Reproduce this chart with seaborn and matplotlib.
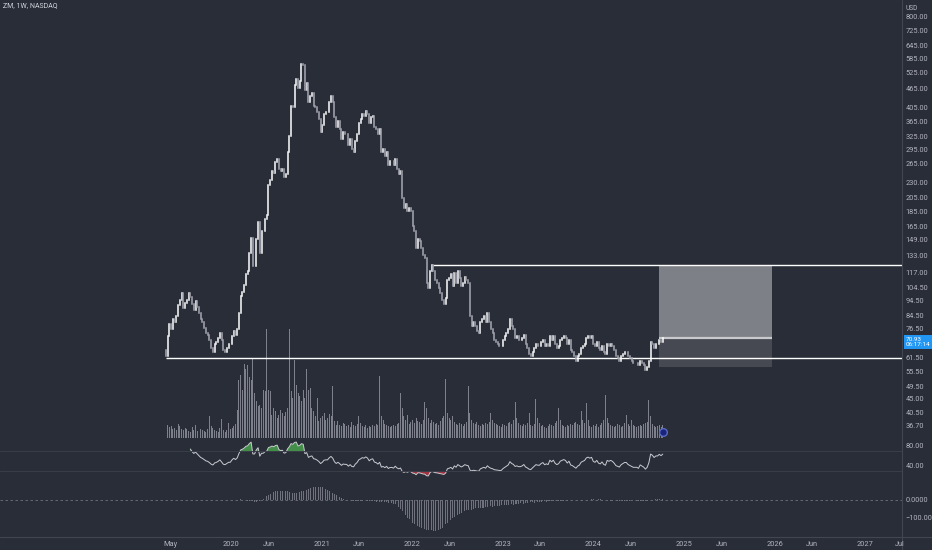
import numpy as np
import pandas as pd
import matplotlib
matplotlib.use('Agg')
import matplotlib.pyplot as plt
import matplotlib.transforms as mtransforms
from matplotlib.lines import Line2D
from matplotlib.ticker import NullLocator
import seaborn as sns

# ========= data: ZM weekly =========
start_week = '2019-04-15'
first_open = 65.0

close_2019 = [62, 72, 79, 76, 82, 80, 84, 91, 95, 100,
              89, 93, 95, 100, 97, 92, 88, 94, 90, 86,
              82, 80, 77, 74, 73, 70, 66, 64, 68, 69,
              71, 74, 70, 65, 64, 66, 68, 68]
close_2020 = [72, 75, 73, 76, 86, 98, 101, 106, 115, 118,
              135, 151, 122, 122, 150, 170, 135, 160, 160, 175,
              180, 225, 235, 250, 247, 268, 275, 255, 250, 254,
              240, 245, 290, 325, 410, 405, 480, 500, 470, 495,
              560, 555, 460, 485, 420, 440, 450, 410, 405, 390,
              370, 337]
close_2021 = [355, 385, 390, 390, 420, 440, 420, 375, 350, 365,
              345, 320, 335, 330, 330, 305, 320, 295, 290, 315,
              330, 360, 370, 385, 380, 395, 385, 360, 375, 380,
              350, 345, 330, 345, 290, 295, 280, 290, 262, 270,
              270, 262, 275, 255, 245, 250, 205, 190, 195, 185,
              190, 185]
close_2022 = [165, 160, 140, 150, 148, 140, 133, 130, 108, 104,
              118, 123, 118, 110, 108, 104, 100, 95, 92, 96,
              110, 112, 115, 105, 116, 108, 118, 112, 105, 108,
              113, 110, 108, 84, 78, 80, 78, 75, 74, 80,
              82, 84, 80, 86, 80, 76, 74, 70, 69, 68,
              67, 67]
close_2023 = [70, 72, 74, 76, 82, 78, 76, 71, 72, 70,
              70, 71, 73, 68, 66, 63, 62, 64, 66, 68,
              67, 67, 69, 70, 67, 68, 67, 72, 70, 72,
              68, 66, 67, 70, 71, 72, 71, 68, 70, 65,
              64, 62, 60, 62, 63, 66, 67, 68, 71, 72,
              71, 72]
close_2024 = [68, 67, 69, 66, 65, 67, 64, 63, 68, 67,
              68, 67, 65, 62, 61, 60, 62, 63, 64, 64,
              62, 61, 60, 59, 59, 59, 58, 60, 59, 58,
              56, 57, 60, 69, 68, 66, 68, 68, 70, 69,
              70.93]

vol_2019 = [22, 13, 11, 12, 9, 10, 8, 14, 12, 9,
            8, 10, 9, 7, 6, 11, 8, 13, 7, 6,
            9, 8, 7, 6, 9, 22, 12, 10, 8, 7,
            6, 10, 19, 8, 6, 8, 15, 9]
vol_2020 = [10, 12, 14, 28, 57, 62, 48, 73, 68, 72,
            60, 57, 78, 45, 37, 32, 33, 30, 48, 47,
            108, 48, 47, 23, 30, 27, 20, 23, 28, 25,
            22, 26, 30, 108, 47, 40, 77, 53, 45, 42,
            37, 48, 40, 68, 48, 50, 30, 27, 22, 40,
            17, 20]
vol_2021 = [22, 25, 18, 20, 24, 22, 52, 17, 13, 17,
            13, 12, 15, 14, 12, 13, 11, 16, 13, 12,
            14, 22, 15, 12, 11, 13, 10, 12, 11, 13,
            12, 14, 13, 61, 22, 18, 14, 13, 12, 11,
            12, 13, 12, 14, 15, 45, 30, 22, 18, 23,
            14, 16]
vol_2022 = [18, 15, 20, 17, 16, 14, 18, 36, 30, 20,
            15, 18, 16, 14, 15, 13, 17, 20, 22, 58,
            25, 20, 18, 22, 16, 14, 13, 15, 14, 12,
            14, 16, 52, 25, 18, 15, 14, 16, 13, 12,
            14, 13, 15, 14, 16, 25, 18, 15, 14, 13,
            12, 11]
vol_2023 = [14, 13, 12, 15, 16, 14, 18, 36, 20, 15,
            13, 12, 14, 13, 15, 25, 13, 12, 14, 39,
            20, 15, 12, 13, 11, 10, 12, 14, 13, 12,
            15, 17, 30, 18, 13, 12, 11, 13, 12, 14,
            13, 15, 16, 14, 13, 27, 18, 15, 35, 18,
            12, 11]
vol_2024 = [13, 12, 14, 11, 13, 15, 18, 43, 20, 15,
            13, 12, 11, 12, 14, 13, 11, 12, 15, 23,
            14, 12, 18, 13, 12, 11, 12, 13, 12, 14,
            15, 16, 38, 22, 14, 12, 11, 12, 13, 11,
            13]

# lower oscillator histogram, starts at week 34
osc_start = 34
osc_hist = [1, 2, 2, 1, 0, -1, -1, 0, 2, 3, 2, 0, -2, -3, -4, -5,
            -7, -9, -10, -8, -5, -1,
            5, 12, 20, 28, 35, 40, 45,
            48, 50, 52, 50, 48, 50, 52, 50, 46, 42,
            40, 38, 40, 42, 45, 48, 52, 55,
            58, 62, 66, 70, 72, 74, 74, 73, 72, 70,
            66, 60, 55, 50, 44, 38, 32, 26, 20, 15, 10, 6, 3, 0,
            -2, -4, -5, -6, -6, -5, -4, -3, -3, -2, -2, -3, -4, -5, -6,
            -8, -9, -10, -10, -11, -12, -12, -13, -14, -15,
            -17, -20, -24, -30, -38, -48, -60, -74,
            -86, -98, -108, -118, -126, -133, -139, -145, -150, -154,
            -158, -161, -164, -166, -168, -169, -170, -170, -169, -167,
            -162, -154, -145, -136, -127, -118, -110, -102, -95, -88,
            -82, -76, -71, -66, -62, -58,
            -55, -52, -54, -50, -47, -49, -45, -43, -46, -42,
            -40, -41, -38, -36, -39, -35, -33, -34, -31, -30,
            -32, -28, -27, -29, -25, -24, -26, -22, -21, -23,
            -19, -18, -20, -16, -15, -17, -13, -12, -14, -11,
            -10, -9, -11, -8, -7, -9, -6, -5, -7, -4,
            -5, -3, -4, -6, -5, -3, -2, -4, -3, -1,
            -2, 0, 1, -1, -2, -3, -1, 0, 2, 3,
            2, 4, 5, 3, 2, 4, 3, 1, 0, -1,
            -2, -1, -3, -4, -2, -3, -5, -4, -6, -5,
            -3, -4, -2, -3, -1, -2, -4, -3, -5, -6,
            -4, -5, -7, -6, -4, -2, 0, 2, 3, 4,
            5, 4, 5]

price_ticks = [800, 725, 645, 585, 525, 465, 405, 365, 325, 295, 265, 230,
               205, 185, 165, 149, 133, 117, 104.5, 94.5, 84.5, 76.5, 61.5,
               55.5, 49.5, 45, 40.5, 36.7]
rsi_ticks = [80, 40]
osc_ticks = [0, -100]
osc_tick_labels = ['0.0000', '\u2212100.00']

time_ticks = ['2019-05-01', '2020-01-01', '2020-06-01', '2021-01-01', '2021-06-01',
              '2022-01-01', '2022-06-01', '2023-01-01', '2023-06-01', '2024-01-01',
              '2024-06-01', '2025-01-01', '2025-06-01', '2026-01-01', '2026-06-01',
              '2027-01-01']
time_labels = ['May', '2020', 'Jun', '2021', 'Jun', '2022', 'Jun', '2023', 'Jun',
               '2024', 'Jun', '2025', 'Jun', '2026', 'Jun', '2027']

# drawings
support_level, support_from = 61.3, '2019-04-15'
resist_level, resist_from = 123.5, '2022-03-28'
pos_start, pos_end = '2024-09-23', '2025-12-22'
pos_entry, pos_target, pos_stop = 70.93, 123.5, 57.3
last_price, countdown = 70.93, '06:17:14'
rsi_len = 14

# ========= build frame =========
closes = close_2019 + close_2020 + close_2021 + close_2022 + close_2023 + close_2024
volume = vol_2019 + vol_2020 + vol_2021 + vol_2022 + vol_2023 + vol_2024
df = pd.DataFrame({'close': closes, 'volume': volume},
                  index=pd.date_range(start_week, periods=len(closes), freq='W-MON'))
df['open'] = [first_open] + closes[:-1]
df['up'] = df['close'] >= df['open']


def rma(values, n):
    # Wilder average, seeded with a simple mean like TradingView
    out = np.full(len(values), np.nan)
    out[n] = np.mean(values[1:n + 1])
    for k in range(n + 1, len(values)):
        out[k] = (out[k - 1] * (n - 1) + values[k]) / n
    return out


delta = df['close'].diff().fillna(0).to_numpy()
avg_gain = rma(np.clip(delta, 0, None), rsi_len)
avg_loss = rma(np.clip(-delta, 0, None), rsi_len)
df['rsi'] = 100 - 100 / (1 + avg_gain / avg_loss)

osc_dates = df.index[osc_start:osc_start + len(osc_hist)]

# ========= style =========
bg = '#292d38'
txt = '#b2b5be'
sep = '#434651'
sns.set_theme(style='dark', rc={'axes.facecolor': bg, 'figure.facecolor': bg,
                                'axes.grid': False})
plt.rcParams['font.family'] = ['Roboto', 'DejaVu Sans']

W, H = 932, 550
fig = plt.figure(figsize=(W / 100, H / 100), dpi=100)


def px_axes(x0, y0, x1, y1, **kw):
    return fig.add_axes([x0 / W, 1 - y1 / H, (x1 - x0) / W, (y1 - y0) / H], **kw)


ax_p = px_axes(0, 0, 902, 438)
ax_v = ax_p.twinx()
ax_r = px_axes(0, 439, 902, 484, sharex=ax_p)
ax_m = px_axes(0, 485, 902, 537, sharex=ax_p)

days_per_px = 4.03
x_left = pd.Timestamp(start_week) - pd.Timedelta(days=166 * days_per_px)
x_right = x_left + pd.Timedelta(days=902 * days_per_px)

for ax in (ax_p, ax_v, ax_r, ax_m):
    ax.patch.set_visible(False)
    for s in ax.spines.values():
        s.set_visible(False)
ax_p.set_zorder(ax_v.get_zorder() + 1)

# ---- volume ----
ax_v.bar(df.index, df['volume'], width=4, color='#8e919a', alpha=0.85, linewidth=0)
ax_v.set_ylim(0, max(volume) * 4.02)
ax_v.set_yticks([])

# ---- position tool ----
ps, pe = pd.Timestamp(pos_start), pd.Timestamp(pos_end)
ax_p.fill_between([ps, pe], pos_entry, pos_target, color='#7e8087', lw=0, zorder=1)
ax_p.fill_between([ps, pe], pos_stop, pos_entry, color='#464952', lw=0, zorder=1)
ax_p.hlines(pos_entry, ps, pe, color='#c9cace', lw=1.6, zorder=2)

# ---- horizontal lines ----
ax_p.hlines(support_level, pd.Timestamp(support_from), x_right, color='white', lw=1.0, zorder=3)
ax_p.hlines(resist_level, pd.Timestamp(resist_from), x_right, color='white', lw=1.0, zorder=3)

# ---- candles ----
up = df[df['up']]
dn = df[~df['up']]
ax_p.vlines(up.index, up['open'], up['close'], color='#ffffff', lw=1.1,
            capstyle='projecting', zorder=4)
ax_p.vlines(dn.index, dn['open'], dn['close'], color='#a7aab3', lw=1.1,
            capstyle='projecting', zorder=4)

ax_p.set_yscale('log')
ax_p.set_ylim(33.5, 909)
ax_p.yaxis.tick_right()
ax_p.set_yticks(price_ticks)
ax_p.set_yticklabels([f'{t:.2f}' for t in price_ticks])
ax_p.yaxis.set_minor_locator(NullLocator())
ax_p.set_xlim(x_left, x_right)

# last price label
ax_p.annotate(f'{last_price:.2f}\n{countdown}', xy=(1.0, last_price),
              xycoords=('axes fraction', 'data'), xytext=(2.5, -2.5),
              textcoords='offset points', ha='left', va='center', fontsize=4.6,
              color='white', linespacing=1.05, annotation_clip=False,
              bbox=dict(boxstyle='square,pad=0.3', fc='#2196f3', ec='none'))

# icon near last bar
blend = mtransforms.blended_transform_factory(ax_v.transData, ax_v.transAxes)
ax_v.plot([df.index[-1]], [0.014], transform=blend, marker='o', ms=5.5,
          mfc='#1a237e', mec='#5c6bc0', mew=1.0, zorder=6)

# ---- RSI ----
sns.lineplot(x=df.index, y=df['rsi'], ax=ax_r, color='#c9cbd1', lw=0.7)
ax_r.fill_between(df.index, df['rsi'], 70, where=df['rsi'] > 70, interpolate=True,
                  color='#4caf50', alpha=0.75, lw=0)
ax_r.fill_between(df.index, df['rsi'], 30, where=df['rsi'] < 30, interpolate=True,
                  color='#f23645', alpha=0.6, lw=0)
ax_r.axhline(70, color='#3a3e49', lw=0.7)
ax_r.axhline(30, color='#3a3e49', lw=0.7)
ax_r.set_ylim(4, 94)
ax_r.yaxis.tick_right()
ax_r.set_yticks(rsi_ticks)
ax_r.set_yticklabels([f'{t:.2f}' for t in rsi_ticks])
ax_r.set_xlabel('')
ax_r.set_ylabel('')

# ---- oscillator ----
ax_m.bar(osc_dates, osc_hist, width=3, color='#70737d', linewidth=0)
ax_m.axhline(0, color='#6f727c', lw=0.6, ls=(0, (3, 3)))
ax_m.set_ylim(-205.6, 83.3)
ax_m.yaxis.tick_right()
ax_m.set_yticks(osc_ticks)
ax_m.set_yticklabels(osc_tick_labels)

ax_m.set_xticks(pd.to_datetime(time_ticks))
ax_m.set_xticklabels(time_labels)

for ax in (ax_p, ax_r, ax_m):
    ax.tick_params(axis='y', length=0, pad=2.5, labelsize=5.3, colors=txt)
    ax.tick_params(axis='x', length=0, labelbottom=False)
ax_m.tick_params(axis='x', length=0, pad=3, labelsize=5.3, colors=txt, labelbottom=True)

# separators
fig.add_artist(Line2D([902 / W, 902 / W], [0, 1], color=sep, lw=0.8))
fig.add_artist(Line2D([0, 1], [1 - 537 / H, 1 - 537 / H], color=sep, lw=0.8))

fig.text(900 / W, 1 - 545 / H, 'Jul', fontsize=5.3, color=txt, ha='center', va='center')
fig.text(3 / W, 1 - 6 / H, 'ZM, 1W, NASDAQ', fontsize=5, color='#d1d4dc', va='center')
fig.text(906 / W, 1 - 8 / H, 'USD', fontsize=4.8, color=txt, va='center')

fig.savefig('out.png', dpi=100, facecolor=bg)
